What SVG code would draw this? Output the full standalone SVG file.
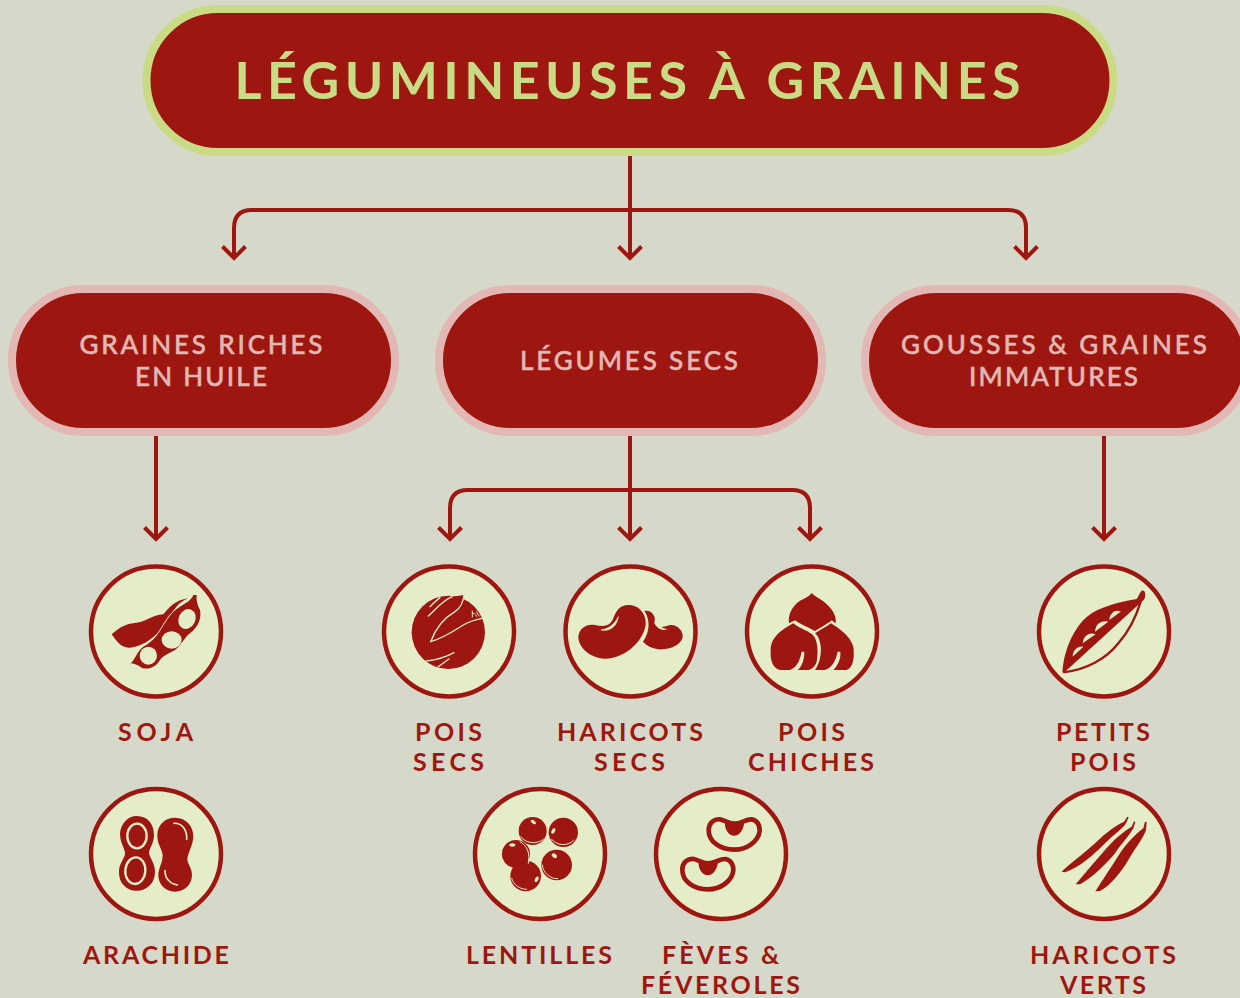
<svg xmlns="http://www.w3.org/2000/svg" width="1240" height="998" viewBox="0 0 1240 998">
<style>
text{font-family:"Lato","Liberation Sans",sans-serif}
.t{font-size:52px;font-weight:700;fill:#c9dc85}
.s{font-size:26px;font-weight:500;fill:#e3b7b3;stroke:#e3b7b3;stroke-width:.5}
.l{font-size:25px;font-weight:700;fill:#9d1710}
.pill{fill:#9d1710;stroke-width:8}
.ring{fill:#e5ecc8;stroke:#9d1710;stroke-width:4.500}
.r{fill:#9d1710}
.c{fill:#e5ecc8}
.cs{fill:none;stroke:#e5ecc8;stroke-width:4;stroke-linecap:round}
.cn{fill:none;stroke:#9d1710;stroke-width:4}
.k{fill:none;stroke:#9d1710;stroke-width:14}
</style>
<defs>
<marker id="a" markerUnits="userSpaceOnUse" markerWidth="30" markerHeight="30" refX="15" refY="15" orient="auto" viewBox="0 0 30 30"><path d="M3.500,3.500 L15,15 L3.500,26.500" fill="none" stroke="#9d1710" stroke-width="4"/></marker>
</defs>
<rect width="1240" height="998" fill="#d6d8c9"/>
<g id="connectors" class="cn">
<path d="M630,154V258" marker-end="url(#a)"/>
<path d="M630,210H252Q234,210 234,228V258" marker-end="url(#a)"/>
<path d="M630,210H1008Q1026,210 1026,228V258" marker-end="url(#a)"/>
<path d="M156,435V539" marker-end="url(#a)"/>
<path d="M630,435V539" marker-end="url(#a)"/>
<path d="M630,490H468Q450,490 450,508V539" marker-end="url(#a)"/>
<path d="M630,490H792Q810,490 810,508V539" marker-end="url(#a)"/>
<path d="M1104,435V539" marker-end="url(#a)"/>
</g>
<g id="title"><rect x="146.500" y="9" width="967" height="143" rx="71.500" class="pill" stroke="#c9dc85"/><text class="t" x="234.500" y="99" textLength="786">LÉGUMINEUSES À GRAINES</text></g>
<g id="cat1"><rect x="12" y="289" width="383" height="143" rx="71.500" class="pill" stroke="#e3b7b3"/><text class="s" x="79.500" y="354" textLength="243">GRAINES RICHES</text><text class="s" x="135" y="386" textLength="132">EN HUILE</text></g>
<g id="cat2"><rect x="439" y="289" width="383" height="143" rx="71.500" class="pill" stroke="#e3b7b3"/><text class="s" x="520" y="370" textLength="218">LÉGUMES SECS</text></g>
<g id="cat3"><rect x="865" y="289" width="383" height="143" rx="71.500" class="pill" stroke="#e3b7b3"/><text class="s" x="901" y="354" textLength="306">GOUSSES &amp; GRAINES</text><text class="s" x="969" y="386" textLength="169">IMMATURES</text></g>

<g id="soja"><circle cx="156" cy="631.500" r="65" class="ring"/>
<g transform="translate(80,555) scale(.3333)">
<path class="r" d="M95,238C120,215 140,205 170,203C200,200 215,180 250,178C265,160 285,135 325,130C295,142 285,160 270,185C255,215 240,230 215,250C190,270 170,275 150,278C125,280 110,260 95,238Z"/>
<path class="r" stroke="#e5ecc8" stroke-width="5" paint-order="stroke" d="M152,325C165,315 170,290 190,275C215,262 230,245 245,220C260,195 275,170 300,155C320,143 335,135 340,120L350,120C348,135 352,150 360,165C365,190 355,215 330,235C315,245 305,270 285,285C265,297 250,300 240,315C225,340 200,345 185,338C175,332 165,325 152,325Z"/>
<ellipse class="c" cx="321" cy="192" rx="25" ry="31" transform="rotate(25 321 192)"/><ellipse class="c" cx="275" cy="255" rx="30" ry="26"/><ellipse class="c" cx="205" cy="302" rx="26" ry="27"/>
</g><text class="l" x="118" y="741" textLength="75">SOJA</text></g>

<g id="pois-secs"><circle cx="449" cy="631.500" r="65" class="ring"/>
<g transform="translate(375,555) scale(.3333)">
<circle class="r" cx="220" cy="232" r="110"/><path class="r" d="M232,125L267,120L262,145Z"/>
<path class="cs" d="M167,260C205,250 240,225 265,210C285,198 310,192 332,188"/>
<path class="cs" d="M167,260C180,225 205,190 240,170C258,158 265,140 267,120"/>
<path class="cs" d="M160,183C185,160 205,135 232,125"/><path class="cs" d="M165,155C175,145 185,135 195,128"/>
<path class="cs" d="M155,318C185,315 215,305 237,293"/><path class="cs" d="M190,335C200,328 210,320 222,312"/>
<path class="cs" style="stroke-width:3" d="M292,186V168M292,176C300,172 303,178 304,184M305,170L312,183"/>
</g><text class="l" x="415" y="741" textLength="67">POIS</text><text class="l" x="413" y="771" textLength="71">SECS</text></g>

<g id="haricots-secs"><circle cx="630.500" cy="631.500" r="65" class="ring"/>
<g transform="translate(555,555) scale(.3333)">
<path class="r" d="M268,168C290,165 298,180 302,198C310,225 325,215 345,210C370,208 385,230 383,247C378,270 345,285 310,283C290,280 275,272 264,260C280,240 290,200 268,168Z"/>
<path class="c" d="M298,205C310,225 325,228 338,222C320,222 310,212 300,186Z"/>
<path class="r" d="M70,245C72,220 95,205 120,210C145,216 165,215 175,190C185,165 195,150 220,150C255,150 275,180 272,210C265,255 215,310 150,311C110,310 70,280 70,245Z"/>
<path class="c" d="M138,225C160,230 185,218 190,185C180,205 165,220 138,225Z" stroke="#e5ecc8" stroke-width="2"/>
</g><text class="l" x="557" y="741" textLength="146">HARICOTS</text><text class="l" x="594" y="771" textLength="71">SECS</text></g>

<g id="pois-chiches"><circle cx="812" cy="631.500" r="65" class="ring"/>
<g transform="translate(735,555) scale(.3333)">
<path class="r" d="M230,114C240,125 255,130 272,145C295,165 305,185 302,205L290,196C280,205 262,215 240,228C225,220 200,210 180,196L162,205C158,175 175,150 195,137C210,130 222,125 230,114Z"/>
<path class="r" d="M175,205C195,222 225,228 238,245C248,262 250,290 245,320C240,335 230,345 215,345L188,345C200,335 208,315 208,290L200,290C195,310 190,335 165,345L135,345C115,340 105,320 107,285C108,245 140,225 175,205Z"/>
<path class="r" d="M288,205C310,220 345,240 355,275C358,300 358,335 335,345L295,345C310,330 318,310 316,290L308,290C302,315 295,335 270,345L240,345C255,325 262,290 255,262C252,250 248,242 240,235C255,225 275,215 288,205Z"/>
</g><text class="l" x="778" y="741" textLength="67">POIS</text><text class="l" x="748" y="771" textLength="126">CHICHES</text></g>

<g id="petits-pois"><circle cx="1104" cy="631.500" r="65" class="ring"/>
<g transform="translate(1030,555) scale(.3333)">
<path class="r" d="M97,353C100,300 120,240 160,195C190,165 240,145 320,132C325,125 328,115 335,107C345,105 347,115 345,125C345,132 340,137 335,140L330,145L105,350Z"/>
<path fill="none" stroke="#9d1710" stroke-width="7" d="M332,140C320,180 300,225 265,265C230,310 170,345 100,352"/>
<path class="c" d="M128,305C128,285 145,272 160,275ZM158,265C160,240 180,230 197,238ZM195,230C197,205 215,195 235,200ZM238,195C240,172 258,162 272,170Z"/>
</g><text class="l" x="1056" y="741" textLength="94">PETITS</text><text class="l" x="1070" y="771" textLength="66">POIS</text></g>

<g id="arachide"><circle cx="156" cy="854" r="65" class="ring"/>
<g transform="translate(80,780) scale(.3333)">
<path class="r" d="M170,108C205,108 222,135 222,165C222,190 207,205 207,220C210,235 225,250 225,275C225,310 200,332 170,332C140,332 116,310 117,275C117,250 135,235 135,220C135,205 120,190 120,160C122,130 145,108 170,108Z"/>
<ellipse cx="171" cy="168" rx="29" ry="37" class="cs" style="stroke-width:7"/><ellipse cx="166" cy="272" rx="30" ry="40" transform="rotate(5 166 272)" class="cs" style="stroke-width:7"/>
<path class="r" d="M285,113C320,113 340,140 340,170C338,200 322,220 322,240C325,255 336,265 336,285C336,315 312,335 285,335C255,335 235,312 235,285C235,265 248,250 248,225C246,205 232,195 232,165C232,135 255,113 285,113Z"/>
<path class="cs" style="stroke-width:5" d="M282,130C305,128 322,150 320,178M255,272C255,295 270,312 292,315"/>
</g><text class="l" x="83" y="964" textLength="146">ARACHIDE</text></g>

<g id="lentilles"><circle cx="540" cy="854" r="65" class="ring"/>
<g transform="translate(465,780) scale(.3333)">
<circle class="r" cx="203" cy="153" r="42"/><circle class="r" cx="295" cy="157" r="44"/><circle class="r" cx="153" cy="222" r="42"/><circle class="r" cx="182" cy="288" r="46"/><circle class="r" cx="275" cy="255" r="46"/>
<ellipse class="c" cx="205" cy="126" rx="9" ry="5" transform="rotate(35 205 126)"/><ellipse class="c" cx="265" cy="153" rx="5" ry="9" transform="rotate(25 265 153)"/><ellipse class="c" cx="142" cy="195" rx="9" ry="5"/><ellipse class="c" cx="215" cy="298" rx="5" ry="9" transform="rotate(25 215 298)"/><ellipse class="c" cx="268" cy="227" rx="9" ry="6" transform="rotate(35 268 227)"/>
<path class="cs" style="stroke-width:3" d="M168,170C180,190 215,195 235,178M260,178C275,198 310,200 327,180M165,185C185,195 197,220 190,250M140,295C145,315 165,328 185,328M232,255C232,275 255,298 278,296"/>
</g><text class="l" x="466" y="964" textLength="146">LENTILLES</text></g>

<g id="feves"><circle cx="721" cy="854" r="65" class="ring"/>
<g transform="translate(465,780) scale(.3333)">
<path class="k" d="M731,150C731,128 748,116 765,118C778,120 790,131 808,131C828,131 842,118 858,118C875,118 885,135 884,153C880,185 845,209 808,209C765,209 731,185 731,150Z"/>
<path class="r" d="M780,125C790,130 825,130 838,122C838,150 822,167 808,167C792,167 778,150 780,125Z"/>
<path class="k" transform="translate(-79,119)" d="M731,150C731,128 748,116 765,118C778,120 790,131 808,131C828,131 842,118 858,118C875,118 885,135 884,153C880,185 845,209 808,209C765,209 731,185 731,150Z"/>
<path transform="translate(-79,119)" class="r" d="M780,125C790,130 825,130 838,122C838,150 822,167 808,167C792,167 778,150 780,125Z"/>
</g><text class="l" x="662" y="964" textLength="117">FÈVES &amp;</text><text class="l" x="641" y="993.500" textLength="159">FÉVEROLES</text></g>

<g id="haricots-verts"><circle cx="1104" cy="854" r="65" class="ring"/>
<g transform="translate(1030,780) scale(.3333)">
<path class="r" d="M95,275C120,250 160,222 200,185C225,160 260,135 282,125L292,110L296,112L288,130C280,145 250,165 225,190C190,225 150,262 105,277Z"/>
<path class="r" d="M137,313C160,285 190,250 225,210C250,180 280,155 305,140L312,124L316,126L310,145C300,165 275,190 255,220C230,250 190,292 150,313Z"/>
<path class="r" d="M196,334C215,305 245,260 270,220C290,190 320,160 340,145L345,125L350,126L348,150C340,175 315,205 295,240C275,275 240,318 210,333Z"/>
</g><text class="l" x="1030" y="964" textLength="146">HARICOTS</text><text class="l" x="1060" y="993.500" textLength="86">VERTS</text></g>
</svg>
